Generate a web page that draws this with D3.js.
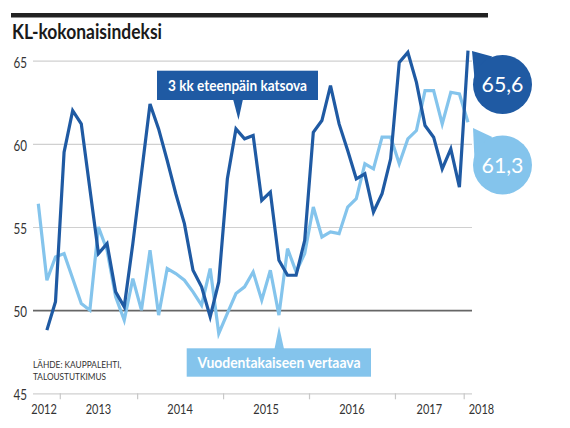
<!DOCTYPE html>
<html>
<head>
<meta charset="utf-8">
<script src="https://cdn.jsdelivr.net/npm/d3@7"></script>
<style>
  html, body { margin: 0; padding: 0; background: #fff; }
  svg { display: block; }
  text { font-family: Lato, "Open Sans", sans-serif; }
</style>
</head>
<body>
<svg id="chart" width="570" height="428"></svg>
<script>
// ---- data ----
const years = [2012, 2013, 2014, 2015, 2016, 2017, 2018];
const pointsPerYear = [3, 9, 10, 10, 10, 8, 1];
const yTicks = [45, 50, 55, 60, 65];
// "3 kk eteenpäin katsova" (no value for the first period)
const forwardLooking = [null, 48.8, 50.5, 59.5, 62.0, 61.2, 57.3, 53.4, 54.0, 51.1, 50.2,
  54.0, 58.2, 62.4, 60.9, 59.0, 57.0, 55.2, 52.4, 51.4, 49.6,
  51.7, 57.9, 60.9, 60.3, 60.5, 56.6, 57.1, 53.0, 52.1, 52.1,
  54.2, 60.7, 61.4, 63.5, 61.2, 59.6, 57.9, 58.2, 55.9, 57.0,
  59.1, 64.9, 65.5, 63.7, 61.1, 60.4, 58.5, 59.7, 57.4, 65.6];
// "Vuodentakaiseen vertaava"
const yearOnYear = [56.4, 51.8, 53.2, 53.4, 51.9, 50.4, 50.0, 55.0, 53.6, 50.8, 49.4,
  51.9, 50.0, 53.6, 49.7, 52.5, 52.2, 51.8, 51.1, 50.3, 52.5,
  48.6, 49.8, 51.0, 51.4, 52.3, 50.6, 52.4, 49.7, 53.7, 52.3,
  53.4, 56.2, 54.4, 54.7, 54.6, 56.2, 56.7, 58.8, 58.5, 60.4,
  60.4, 58.8, 60.3, 60.8, 63.2, 63.2, 61.2, 63.1, 63.0, 61.3];

const darkBlue = "#1f5aa3";
const lightBlue = "#84c4ec";

const svg = d3.select("#chart");
svg.append("rect").attr("width", 570).attr("height", 428).attr("fill", "#fff");

// fit text to the narrow width of the original condensed typeface
function fit(sel, w) { return sel.attr("textLength", w).attr("lengthAdjust", "spacingAndGlyphs"); }

// top bar + title
svg.append("rect").attr("x", 11).attr("y", 13).attr("width", 477).attr("height", 4.5).attr("fill", "#222");
fit(svg.append("text").attr("x", 12).attr("y", 39)
  .attr("font-size", 20).attr("font-weight", "bold").attr("fill", "#1a1a1a")
  .text("KL-kokonaisindeksi"), 150);

const n = yearOnYear.length;
const x = d3.scaleLinear().domain([0, n - 1]).range([38.3, 468]);
const y = d3.scaleLinear().domain([45, 65]).range([393.3, 60.7]);

const gridLeft = 33, gridRight = 472;

// y axis with gridlines
const yAxis = svg.append("g").attr("transform", `translate(${gridRight},0)`)
  .call(d3.axisLeft(y).tickValues(yTicks).tickSize(gridRight - gridLeft).tickPadding(6));
yAxis.select(".domain").remove();
yAxis.selectAll(".tick line").attr("stroke", d => d === 50 ? "#666" : "#d0d0d0")
  .attr("stroke-width", d => d === 50 ? 1.6 : 1.2);
yAxis.selectAll(".tick text").attr("font-size", 14.5).attr("fill", "#333")
  .attr("font-family", "Lato, 'Open Sans', sans-serif")
  .attr("dy", "0.45em");
fit(yAxis.selectAll(".tick text"), 13.5);

// x axis: ticks at year boundaries
const cum = d3.cumsum(pointsPerYear);
const boundaries = Array.from(cum).slice(0, -1).map(c => c - 0.5);
const xAxis = svg.append("g").attr("transform", `translate(0,${y(45)})`)
  .call(d3.axisBottom(x).tickValues(boundaries).tickSize(6).tickFormat(""));
xAxis.select(".domain").remove();
xAxis.selectAll(".tick line").attr("stroke", "#c8c8c8").attr("stroke-width", 1.2);

// year labels
const starts = [-0.5, ...boundaries];
const ends = [...boundaries, n - 0.5];
years.forEach((yr, i) => {
  let xp, anchor = "middle";
  if (i === 0) { xp = x(ends[0]) - 3; anchor = "end"; }
  else if (i === years.length - 1) { xp = x(starts[i]) + 5; anchor = "start"; }
  else { xp = (x(starts[i]) + x(ends[i])) / 2; }
  fit(svg.append("text").attr("x", xp).attr("y", 413.5).attr("text-anchor", anchor)
    .attr("font-size", 13.5).attr("fill", "#333").text(yr), 25.5);
});

// lines
const line = d3.line().defined(d => d != null).x((d, i) => x(i)).y(d => y(d));
svg.append("path").datum(yearOnYear).attr("d", line)
  .attr("fill", "none").attr("stroke", lightBlue).attr("stroke-width", 3.2).attr("stroke-linejoin", "miter");
svg.append("path").datum(forwardLooking).attr("d", line)
  .attr("fill", "none").attr("stroke", darkBlue).attr("stroke-width", 3.2).attr("stroke-linejoin", "miter");

// source
fit(svg.append("text").attr("x", 33).attr("y", 367.5).attr("font-size", 10).attr("fill", "#333").text("LÄHDE: KAUPPALEHTI,"), 88.5);
fit(svg.append("text").attr("x", 33).attr("y", 379.5).attr("font-size", 10).attr("fill", "#333").text("TALOUSTUTKIMUS"), 73);

// label boxes
svg.append("path").attr("d", "M233,99 L243,99 L238.5,120 Z").attr("fill", darkBlue);
svg.append("rect").attr("x", 157).attr("y", 70.7).attr("width", 161).attr("height", 29.3).attr("fill", darkBlue);
fit(svg.append("text").attr("x", 237.5).attr("y", 90.5).attr("text-anchor", "middle")
  .attr("font-size", 15.5).attr("font-weight", "bold").attr("fill", "#fff").text("3 kk eteenpäin katsova"), 139);

svg.append("path").attr("d", "M274.5,349 L284,349 L279,326 Z").attr("fill", lightBlue);
svg.append("rect").attr("x", 186.7).attr("y", 348.3).attr("width", 184.3).attr("height", 28.4).attr("fill", lightBlue);
fit(svg.append("text").attr("x", 279).attr("y", 367.5).attr("text-anchor", "middle")
  .attr("font-size", 16).attr("font-weight", "bold").attr("fill", "#fff").text("Vuodentakaiseen vertaava"), 163);

// end value bubbles
function bubble(cx, cy, r, tx, ty, color, label) {
  svg.append("path").attr("d", `M${tx},${ty} L${cx - r * 0.35},${cy - r * 0.95} L${cx - r * 0.95},${cy - r * 0.2} Z`).attr("fill", color);
  svg.append("circle").attr("cx", cx).attr("cy", cy).attr("r", r).attr("fill", color);
  fit(svg.append("text").attr("x", cx).attr("y", cy + 7.5).attr("text-anchor", "middle")
    .attr("font-size", 21.5).attr("fill", "#fff").text(label), 42);
}
const fmt = v => String(v).replace(".", ",");
bubble(502.5, 84.5, 29.5, 472, 51, darkBlue, fmt(forwardLooking[n - 1]));
bubble(502.5, 165, 29.5, 473, 128, lightBlue, fmt(yearOnYear[n - 1]));
</script>
</body>
</html>
